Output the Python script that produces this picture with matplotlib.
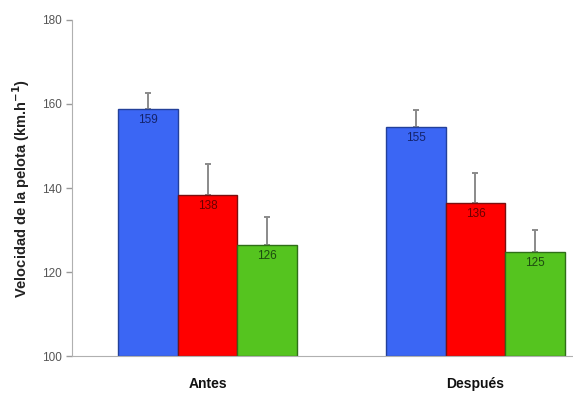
import numpy as np
import matplotlib.pyplot as plt

plt.rcParams['font.family'] = ['Liberation Sans', 'DejaVu Sans']

groups = ['Antes', 'Después']
blue_vals = [158.8, 154.5]
red_vals = [138.3, 136.4]
green_vals = [126.4, 124.8]
blue_err = [3.8, 4.1]
red_err = [7.4, 7.2]
green_err = [6.7, 5.2]
labels_blue = ['159', '155']
labels_red = ['138', '136']
labels_green = ['126', '125']

fig = plt.figure(figsize=(5.73, 3.96), dpi=100)
ax = fig.add_axes([0.1257, 0.101, 0.8743, 0.8485])

x = np.arange(len(groups))
w = 0.222
series = [
    (blue_vals, blue_err, labels_blue, '#3b66f4', '#23409a', '#14236b'),
    (red_vals, red_err, labels_red, '#ff0000', '#7a1010', '#6a0000'),
    (green_vals, green_err, labels_green, '#55c41f', '#2f6e18', '#1d4a10'),
]
for i, (vals, err, labs, fc, ec, tc) in enumerate(series):
    pos = x + (i - 1) * w
    ax.bar(pos, np.array(vals) - 100, w, bottom=100, color=fc, edgecolor=ec,
           linewidth=1.0, zorder=2)
    ax.errorbar(pos, vals, yerr=[np.zeros(len(err)), err], fmt='none',
                ecolor='#8a8a8a', elinewidth=1.4, capsize=2, capthick=1.4, zorder=1)
    for p, v, t in zip(pos, vals, labs):
        ax.text(p, v - 2.6, t, ha='center', va='center', fontsize=8.5, color=tc, zorder=3)

ax.set_xlim(-0.506, 1.364)
ax.set_ylim(100, 180)
ax.set_yticks([100, 120, 140, 160, 180])
ax.set_xticks(x)
ax.set_xticklabels(groups, fontsize=10, fontweight='bold', color='#111111')
ax.tick_params(axis='x', length=0, pad=15)
ax.tick_params(axis='y', colors='#9a9a9a', labelcolor='#555555', labelsize=8.5, length=4, width=1)
for s in ['top', 'right']:
    ax.spines[s].set_visible(False)
ax.spines['left'].set_color('#b0b0b0')
ax.spines['bottom'].set_color('#b0b0b0')
ax.set_ylabel('Velocidad de la pelota (km.h$^{\\mathbf{-1}}$)', fontsize=10.5, fontweight='bold',
              color='#222222', labelpad=7)

fig.savefig('out.png', dpi=100)
